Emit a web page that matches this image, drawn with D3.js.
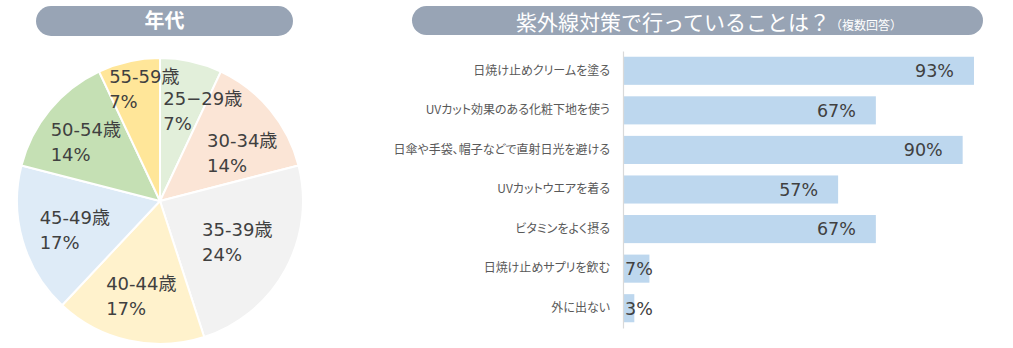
<!DOCTYPE html>
<html lang="ja">
<head>
<meta charset="utf-8">
<script src="https://cdn.jsdelivr.net/npm/d3@7/dist/d3.min.js"></script>
<style>
  html, body { margin: 0; padding: 0; background: #fff; }
  svg { display: block; }
  .pie-label { font-family: "DejaVu Sans", "Noto Sans CJK JP", sans-serif; font-size: 18px; fill: #404040; }
  .cat-label { font-family: "Noto Sans CJK JP", sans-serif; font-size: 12px; fill: #595959; font-feature-settings: "palt"; }
  .val-label { font-family: "DejaVu Sans", sans-serif; font-size: 17.5px; fill: #404040; }
  .pill-text { font-family: "Noto Sans CJK JP", sans-serif; fill: #fff; }
</style>
</head>
<body>
<svg id="chart" width="1013" height="348"></svg>
<script>
// Age groups of respondents (share, %)
const ageGroups = ["25\u221229歳", "30-34歳", "35-39歳", "40-44歳", "45-49歳", "50-54歳", "55-59歳"];
const ageShares = [7, 14, 24, 17, 17, 14, 7];
const ageColors = ["#E2EFDA", "#FBE5D6", "#F2F2F2", "#FFF2CC", "#DEEBF7", "#C5E0B4", "#FFE699"];

// UV protection measures (multiple answers, %)
const measures = [
  "日焼け止めクリームを塗る",
  "UVカット効果のある化粧下地を使う",
  "日傘や手袋、帽子などで直射日光を避ける",
  "UVカットウエアを着る",
  "ビタミンをよく摂る",
  "日焼け止めサプリを飲む",
  "外に出ない"
];
const measureRates = [93, 67, 90, 57, 67, 7, 3];

const pieTitle = "年代";
const barTitle = "紫外線対策で行っていることは？";
const barSubtitle = "（複数回答）";

const svg = d3.select("#chart");
const pillColor = "#98A4B5";

// ---------- title pills ----------
function pill(x0, x1, y0, y1) {
  const h = y1 - y0;
  svg.append("rect")
    .attr("x", x0).attr("y", y0)
    .attr("width", x1 - x0).attr("height", h)
    .attr("rx", h / 2).attr("ry", h / 2)
    .attr("fill", pillColor);
}

pill(36, 293, 6, 36);
svg.append("text")
  .attr("class", "pill-text")
  .attr("x", 164.5).attr("y", 21)
  .attr("dy", "0.36em")
  .attr("text-anchor", "middle")
  .style("font-size", "20px")
  .style("font-weight", 700)
  .text(pieTitle);

pill(412, 983, 6, 35);
const titleText = svg.append("text")
  .attr("class", "pill-text")
  .attr("x", 516).attr("y", 30);
titleText.append("tspan").style("font-size", "21px").text(barTitle);
titleText.append("tspan").style("font-size", "12px").text(barSubtitle);

// ---------- pie ----------
const pieCx = 160, pieCy = 201, pieR = 143;
const pieG = svg.append("g").attr("transform", `translate(${pieCx},${pieCy})`);

const pie = d3.pie().sort(null).value(d => d.v);
const arcs = pie(ageGroups.map((g, i) => ({ g, v: ageShares[i], c: ageColors[i] })));
const arc = d3.arc().innerRadius(0).outerRadius(pieR);

pieG.selectAll("path.slice")
  .data(arcs)
  .join("path")
  .attr("class", "slice")
  .attr("d", arc)
  .attr("fill", d => d.data.c)
  .attr("stroke", "#fff")
  .attr("stroke-width", 2);

// label blocks sit around a ring inside the pie, nudged like best-fit placement
const labelArc = d3.arc().innerRadius(95).outerRadius(95);
const labelNudge = [[22, 3], [9, 13], [-6, -5], [2, 2], [6, 2], [-1, 2], [5, -19]];
const lineGap = 25;

arcs.forEach((d, i) => {
  const [cx, cy] = labelArc.centroid(d);
  const bx = cx + labelNudge[i][0];
  const by = cy + labelNudge[i][1];
  const t = pieG.append("text").attr("class", "pie-label");
  const l1 = t.append("tspan").attr("y", by - lineGap / 2 + 6.5).text(d.data.g);
  const l2 = t.append("tspan").attr("y", by + lineGap / 2 + 6.5).text(d.data.v + "%");
  const w = Math.max(l1.node().getComputedTextLength(), l2.node().getComputedTextLength());
  l1.attr("x", bx - w / 2);
  l2.attr("x", bx - w / 2);
});

// ---------- horizontal bar chart ----------
const x = d3.scaleLinear().domain([0, 100]).range([623, 1000.4]);
const y = d3.scaleBand().domain(measures).range([51, 328]).paddingInner(0.29).paddingOuter(0.145);

svg.append("g")
  .selectAll("rect")
  .data(measures)
  .join("rect")
  .attr("x", x(0))
  .attr("y", d => y(d))
  .attr("width", (d, i) => x(measureRates[i]) - x(0))
  .attr("height", y.bandwidth())
  .attr("fill", "#BDD7EE");

const yAxis = svg.append("g")
  .attr("transform", `translate(${x(0)},0)`)
  .call(d3.axisLeft(y).tickSize(0).tickSizeOuter(0).tickPadding(13));
yAxis.select(".domain").attr("stroke", "#D9D9D9").attr("stroke-width", 1.2);
yAxis.selectAll(".tick text").attr("class", "cat-label").attr("fill", null).attr("font-family", null).attr("font-size", null);
yAxis.attr("font-family", null).attr("font-size", null);

// value labels: inside end of the bar, pushed right when the bar is too short
svg.append("g")
  .selectAll("text")
  .data(measures)
  .join("text")
  .attr("class", "val-label")
  .attr("y", d => y(d) + y.bandwidth() / 2)
  .attr("dy", "0.36em")
  .attr("text-anchor", "end")
  .text((d, i) => measureRates[i] + "%")
  .each(function (d, i) {
    const w = this.getComputedTextLength();
    const end = Math.max(x(measureRates[i]) - 20, x(0) + 2 + w);
    d3.select(this).attr("x", end);
  });
</script>
</body>
</html>
